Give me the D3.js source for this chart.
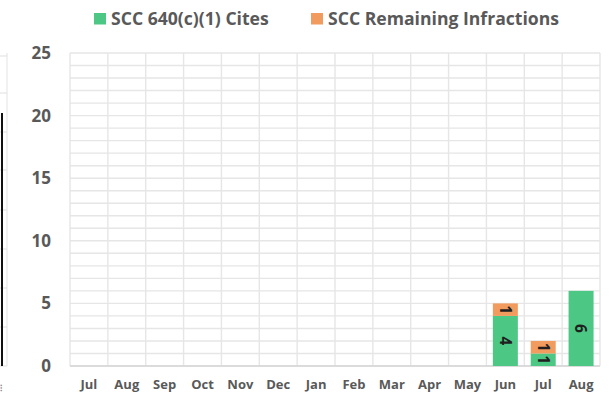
<!DOCTYPE html>
<html>
<head>
<meta charset="utf-8">
<script src="https://cdn.jsdelivr.net/npm/d3@7"></script>
<style>
  html, body { margin: 0; padding: 0; background: #ffffff; }
  svg { display: block; }
  text { font-family: "Open Sans", Lato, sans-serif; font-weight: bold; }
</style>
</head>
<body>
<svg id="chart" width="610" height="396"></svg>
<script>
// Monthly counts
const months = ["Jul","Aug","Sep","Oct","Nov","Dec","Jan","Feb","Mar","Apr","May","Jun","Jul","Aug"];
const cites = [0,0,0,0,0,0,0,0,0,0,0,4,1,6];
const remaining = [0,0,0,0,0,0,0,0,0,0,0,1,1,0];
const yTicks = [0,5,10,15,20,25];
const seriesNames = ["SCC 640(c)(1) Cites", "SCC Remaining Infractions"];
const colors = ["#4cc784", "#f29b5f"];

const svg = d3.select("#chart");
const margin = { left: 70, right: 10, top: 53, bottom: 30 };
const W = 610, H = 396;
const font = "'Open Sans', Lato, sans-serif";

const rows = months.map((m, i) => ({ key: i, month: m, cites: cites[i], remaining: remaining[i] }));
const stack = d3.stack().keys(["cites", "remaining"])(rows);

const x = d3.scaleBand().domain(rows.map(d => d.key))
  .range([margin.left, W - margin.right]).paddingInner(0.34).paddingOuter(0.17);
const xEdge = d3.scaleLinear().domain([0, months.length]).range([margin.left, W - margin.right]);
const y = d3.scaleLinear().domain([0, 25]).range([H - margin.bottom, margin.top]);

// Neighbouring panel remnant at the left edge
const left = svg.append("g");
left.append("line").attr("x1", 7).attr("x2", 7).attr("y1", 53).attr("y2", 366)
  .attr("stroke", "#ececec").attr("stroke-width", 1.5);
[56, 93, 132, 170, 210, 249, 288, 327, 366].forEach(v => {
  left.append("line").attr("x1", 0).attr("x2", 7).attr("y1", v).attr("y2", v)
    .attr("stroke", "#e4e4e4").attr("stroke-width", 1.2);
});
left.append("line").attr("x1", 2).attr("x2", 2).attr("y1", 113).attr("y2", 366)
  .attr("stroke", "#111").attr("stroke-width", 2);
left.append("text").attr("x", 0).attr("y", 391).attr("fill", "#888").attr("font-size", 9)
  .attr("font-weight", "normal").text("⁝");

// Grid: a line every unit, and a line at each month boundary
const grid = svg.append("g");
d3.range(0, 26).forEach(v => {
  grid.append("line")
    .attr("x1", margin.left).attr("x2", W - margin.right)
    .attr("y1", y(v)).attr("y2", y(v))
    .attr("stroke", "#e6e6e6").attr("stroke-width", 1.4);
});
d3.range(0, months.length + 1).forEach(i => {
  grid.append("line")
    .attr("x1", xEdge(i)).attr("x2", xEdge(i))
    .attr("y1", y(25)).attr("y2", y(0))
    .attr("stroke", "#e6e6e6").attr("stroke-width", 1.4);
});
grid.append("line").attr("x1", margin.left).attr("x2", W - margin.right)
  .attr("y1", y(0)).attr("y2", y(0)).attr("stroke", "#d6d6d6").attr("stroke-width", 1.4);

// Stacked bars
const layers = svg.append("g").selectAll("g").data(stack).join("g")
  .attr("fill", (d, i) => colors[i]);
layers.selectAll("rect").data(d => d.filter(p => p[1] - p[0] > 0)).join("rect")
  .attr("x", d => x(d.data.key))
  .attr("width", x.bandwidth())
  .attr("y", d => y(d[1]))
  .attr("height", d => y(d[0]) - y(d[1]));

// Value labels, rotated
layers.selectAll("text").data(d => d.filter(p => p[1] - p[0] > 0)).join("text")
  .attr("transform", d => `translate(${x(d.data.key) + x.bandwidth() / 2},${(y(d[0]) + y(d[1])) / 2}) rotate(90)`)
  .attr("text-anchor", "middle").attr("dy", "0.36em")
  .attr("fill", "#1f1f1f").attr("font-size", 15.5)
  .text(d => d[1] - d[0]);

// Y axis labels
const yAxis = svg.append("g").attr("transform", `translate(${margin.left - 19},0)`)
  .call(d3.axisLeft(y).tickValues(yTicks).tickSize(0).tickPadding(0));
yAxis.select(".domain").remove();
yAxis.selectAll("text").attr("font-size", 17).attr("fill", "#595959")
  .style("font-family", font).style("font-weight", "bold");

// X axis labels
const xAxis = svg.append("g").attr("transform", `translate(0,${y(0) + 14})`)
  .call(d3.axisBottom(x).tickFormat(i => months[i]).tickSize(0).tickPadding(0));
xAxis.select(".domain").remove();
xAxis.selectAll("text").attr("font-size", 13).attr("fill", "#595959")
  .style("font-family", font).style("font-weight", "bold");

// Legend
const legend = svg.append("g");
const legendX = [94, 311];
seriesNames.forEach((name, i) => {
  legend.append("rect").attr("x", legendX[i]).attr("y", 13).attr("width", 12).attr("height", 11.5)
    .attr("fill", colors[i]);
  legend.append("text").attr("x", legendX[i] + 17).attr("y", 18.5).attr("dy", "0.36em")
    .attr("font-size", 17.6).attr("fill", "#595959").text(name);
});
</script>
</body>
</html>
